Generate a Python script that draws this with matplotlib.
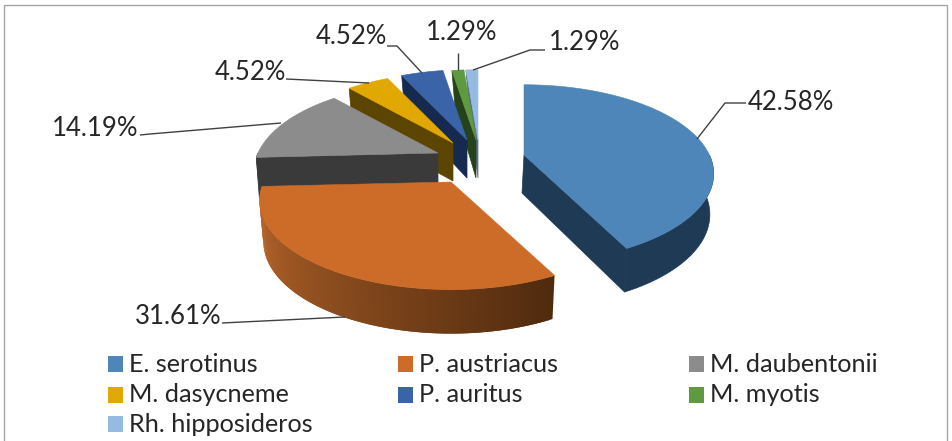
import numpy as np
import matplotlib
matplotlib.use("Agg")
import matplotlib.pyplot as plt
from matplotlib.colors import to_rgb
from matplotlib.patches import Polygon, Rectangle

plt.rcParams['font.family'] = ['Lato', 'DejaVu Sans']

species = ["E. serotinus", "P. austriacus", "M. daubentonii", "M. dasycneme",
           "P. auritus", "M. myotis", "Rh. hipposideros"]
shares = [42.58, 31.61, 14.19, 4.52, 4.52, 1.29, 1.29]
top_colors = ["#4f86b9", "#cd6b28", "#8c8c8c", "#e0a800", "#3a63a8", "#5f9a3e", "#96bbe2"]
wall_colors = ["#1f3a54", "#7a4318", "#3a3a3a", "#5c4500", "#16294f", "#26421a", "#5a6f88"]

# layout: exploded apex of each slice in pixels, and the projected pie shape
apex = [(524, 155), (451, 182), (438, 153), (453, 143), (467, 140), (476, 140), (478, 140)]
rx_scale = [1.03, 1.04, 1.0, 1.0, 1.0, 1.0, 1.0]
RX, RY, PERSP = 180, 85, 0.21
DEPTH = 40

# label layout: text anchor (left, centre y) and leader path per slice
label_pos = [(748, 102), (135, 317), (52, 128), (215, 73), (316, 37), (426, 33), (549, 43)]
leaders = [
    [(746, 103), (725, 103), (697, 139)],
    [(222, 323), (345, 317)],
    [(140, 135), (150, 134), (281, 123)],
    [(286, 79), (369, 83)],
    [(387, 46), (397, 46), (422, 73)],
    [(458, 53), (458, 70)],
    [(473, 70), (530, 50), (545, 50)],
]
legend_pos = [(108, 364), (398, 364), (689, 364),
              (108, 395), (398, 395), (689, 395),
              (108, 424)]


def rim(t_deg, c, s=1.0):
    t = np.radians(t_deg)
    w = 1 + PERSP * np.cos(t)
    return c[0] + s * RX * np.sin(t) / w, c[1] - RY * np.cos(t) / w


def drop(t_deg):
    return DEPTH - 4 * np.cos(np.radians(t_deg))


def lerp(a, b, f):
    a, b = np.array(to_rgb(a)), np.array(to_rgb(b))
    return tuple(a + (b - a) * f)


fig = plt.figure(figsize=(9.52, 4.41), dpi=100)
ax = fig.add_axes([0, 0, 1, 1])
ax.set_xlim(0, 952)
ax.set_ylim(441, 0)
ax.axis("off")

# chart frame
ax.add_patch(Rectangle((4, 5), 943, 445, fill=False, ec="#a6a6a6", lw=1.0))

edges = np.concatenate([[0], np.cumsum(shares)]) * 3.6
draw_order = [6, 5, 4, 3, 2, 0, 1]


def wall_point(t, c, s):
    p = rim(t, c, s)
    return (p[0] + 0.02 * (c[0] - p[0]), p[1] + drop(t))


for i in draw_order:
    t0, t1 = edges[i], edges[i + 1]
    c = apex[i]
    s = rx_scale[i]
    z = 10 + draw_order.index(i) * 3
    # radial wall
    if i != 1:
        t_edge = t1 if i == 0 else t0
        p = rim(t_edge, c, s)
        dx = -2 if i == 0 else 3
        wall = [c, p, (p[0] + dx, p[1] + drop(t_edge)), (c[0] + min(dx, 0), c[1] + DEPTH - 2)]
        ax.add_patch(Polygon(wall, closed=True, fc=wall_colors[i], ec=wall_colors[i], lw=0.5, zorder=z))
    # outer wall: only the part of the rim facing the viewer
    lo, hi = max(t0, 90), min(t1, 270)
    if lo < hi:
        ts = np.linspace(lo, hi, 120)
        if i == 1:
            for k in range(len(ts) - 1):
                a, b = ts[k], ts[min(k + 2, len(ts) - 1)]
                f = (a - lo) / (hi - lo)
                col = lerp("#4f2a0e", "#b5642a", min(1, f * 1.15))
                ax.add_patch(Polygon([rim(a, c, s), rim(b, c, s), wall_point(b, c, s), wall_point(a, c, s)],
                                     closed=True, fc=col, ec="none", zorder=z + 1))
        else:
            pts = [rim(t, c, s) for t in ts] + [wall_point(t, c, s) for t in ts[::-1]]
            ax.add_patch(Polygon(pts, closed=True, fc=wall_colors[i], ec=wall_colors[i], lw=0.5, zorder=z + 1))
    # top face
    ts = np.linspace(t0, t1, 90)
    pts = [c] + [rim(t, c, s) for t in ts]
    ax.add_patch(Polygon(pts, closed=True, fc=top_colors[i], ec=top_colors[i], lw=0.4, zorder=z + 2))

# leaders and labels
for v, (x, y), path in zip(shares, label_pos, leaders):
    xs, ys = zip(*path)
    ax.plot(xs, ys, color="#404040", lw=1.0, zorder=60, solid_capstyle="butt")
    ax.text(x, y, f"{v:.2f}%", fontsize=18.5, color="#262626", ha="left", va="center", zorder=61)

# legend
for name, col, (x, y) in zip(species, top_colors, legend_pos):
    ax.add_patch(Rectangle((x, y - 8), 15, 16, fc=col, ec="none", zorder=60))
    ax.text(x + 21, y, name, fontsize=18.2, color="#262626", ha="left", va="center", zorder=61)

fig.savefig("out.png", dpi=100)
